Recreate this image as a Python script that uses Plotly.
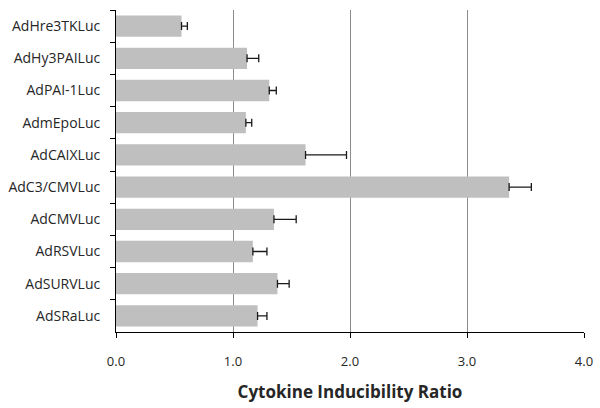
import plotly.graph_objects as go

categories = ["AdHre3TKLuc", "AdHy3PAILuc", "AdPAI-1Luc", "AdmEpoLuc", "AdCAIXLuc",
              "AdC3/CMVLuc", "AdCMVLuc", "AdRSVLuc", "AdSURVLuc", "AdSRaLuc"]
values = [0.56, 1.12, 1.31, 1.11, 1.62, 3.36, 1.35, 1.17, 1.38, 1.21]
errors = [0.05, 0.10, 0.06, 0.05, 0.35, 0.19, 0.19, 0.12, 0.10, 0.08]
x_ticks = [0, 1, 2, 3, 4]
x_tick_labels = ["0.0", "1.0", "2.0", "3.0", "4.0"]

font_family = "Open Sans, sans-serif"

fig = go.Figure()
fig.add_trace(go.Bar(
    x=values, y=categories, orientation="h",
    marker=dict(color="#BFBFBF", line=dict(width=0)),
    error_x=dict(type="data", array=errors, symmetric=False,
                 color="#1a1a1a", thickness=1.3, width=4),
))

fig.update_layout(
    width=600, height=408,
    margin=dict(l=116, r=16, t=10, b=76),
    paper_bgcolor="white", plot_bgcolor="white",
    showlegend=False, bargap=0.34,
    font=dict(family=font_family, color="#262626", size=13),
)
fig.update_xaxes(
    range=[0, 4], tickvals=x_ticks, ticktext=x_tick_labels,
    showgrid=True, gridcolor="#8c8c8c", gridwidth=1,
    showline=True, linecolor="black", linewidth=1,
    ticks="outside", ticklen=5, tickcolor="black",
    zeroline=False, tickfont=dict(size=13), ticklabeloverflow="allow",
    ticklabelstandoff=12, automargin=False,
    title=dict(text="<b>Cytokine Inducibility Ratio</b>", font=dict(size=17), standoff=17),
)
fig.update_yaxes(
    autorange="reversed", showgrid=False,
    showline=True, linecolor="black", linewidth=1,
    ticks="outside", ticklen=5, tickcolor="black", tickson="boundaries",
    ticklabelstandoff=12, tickfont=dict(size=14), automargin=False,
)

fig.write_html("out.html", config={"displayModeBar": False},
               post_script="document.body.style.margin='0';document.body.style.padding='0';")
